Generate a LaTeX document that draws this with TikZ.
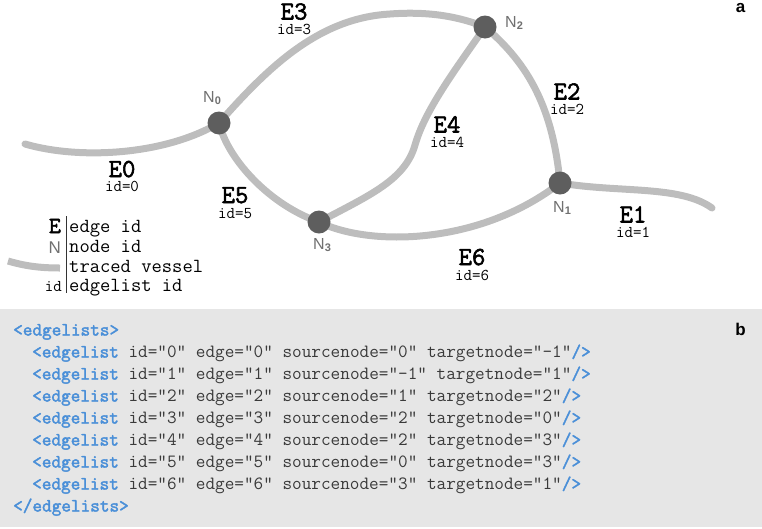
\documentclass[tikz,border=0pt]{standalone}
\usepackage{fontspec}
\newfontfamily\sansf{Liberation Sans}
\newfontfamily\ttb{Latin Modern Mono}[FakeBold=2.2]
\definecolor{vessel}{HTML}{BDBDBD}
\definecolor{nodefill}{HTML}{5E5E5E}
\definecolor{nlabel}{HTML}{707070}
\definecolor{panelgray}{HTML}{E6E6E6}
\definecolor{codeblue}{HTML}{4A8FD8}
\definecolor{codetext}{HTML}{3A3A3A}
\newcommand\tg[1]{\textcolor{codeblue}{\ttb #1}}
\newcommand\nlab[1]{{\sansf N\raisebox{-2.5pt}{\fontsize{11}{11}\selectfont\bfseries #1}}}
\newcommand\monospaces{\spaceskip=0.515em\relax\xspaceskip=0.515em\relax}
\tikzset{
  vesselline/.style={draw=vessel, line width=7pt, line cap=round},
  vnode/.style={circle, fill=nodefill, minimum size=23pt, inner sep=0pt},
  elab/.style={anchor=base, inner sep=0pt, font=\ttb\fontsize{26}{26}\selectfont},
  idlab/.style={anchor=base, inner sep=0pt, font=\ttfamily\fontsize{16.5}{16.5}\selectfont},
  nodelab/.style={anchor=base west, inner sep=0pt, text=nlabel, font=\fontsize{16}{16}\selectfont},
  legtext/.style={anchor=base west, inner sep=0pt, font=\ttfamily\fontsize{20}{20}\selectfont\monospaces},
  code/.style={anchor=base west, inner sep=0pt, text=codetext, font=\ttfamily\fontsize{18.7}{18.7}\selectfont\monospaces},
  panel/.style={anchor=base, inner sep=0pt, font=\sansf\bfseries\fontsize{17}{17}\selectfont}
}
\begin{document}
\begin{tikzpicture}[x=1pt,y=-1pt]
\useasboundingbox (0,0) rectangle (762,528);
% node centres
\coordinate (c0) at (219,123);
\coordinate (c1) at (560,183);
\coordinate (c2) at (485,27);
\coordinate (c3) at (319,222);
\coordinate (e0s) at (25,144);
\coordinate (e1e) at (712,208);
\coordinate (e3top) at (390,14);
\coordinate (e4mid) at (415,145);
% vessels
\draw[vesselline] (e0s) .. controls (80,160) and (165,155) .. (c0);
\draw[vesselline] (c0) .. controls (270,65) and (320,18) .. (e3top) .. controls (430,11) and (460,17) .. (c2);
\draw[vesselline] (c2) .. controls (530,65) and (553,110) .. (c1);
\draw[vesselline] (c2) .. controls (455,70) and (425,110) .. (e4mid) .. controls (405,180) and (370,195) .. (c3);
\draw[vesselline] (c0) .. controls (228,160) and (270,205) .. (c3);
\draw[vesselline] (c3) .. controls (370,247) and (480,245) .. (c1);
\draw[vesselline] (c1) .. controls (620,193) and (680,185) .. (e1e);
% nodes
\node[vnode] (n0) at (c0) {};
\node[vnode] (n1) at (c1) {};
\node[vnode] (n2) at (c2) {};
\node[vnode] (n3) at (c3) {};
% node labels
\node[nodelab] (ln0) at (203,102) {\nlab{0}};
\node[nodelab] (ln1) at (553,212) {\nlab{1}};
\node[nodelab] (ln2) at (505,27) {\nlab{2}};
\node[nodelab] (ln3) at (313,249) {\nlab{3}};
% edge labels
\node[elab] (le3) at (294,19.5) {E3};
\node[idlab] (li3) at (294,34) {id=3};
\node[elab] (le0) at (122,177) {E0};
\node[idlab] (li0) at (122,191.5) {id=0};
\node[elab] (le5) at (235,203) {E5};
\node[idlab] (li5) at (235,218) {id=5};
\node[elab] (le2) at (567,99.5) {E2};
\node[idlab] (li2) at (567,114) {id=2};
\node[elab] (le4) at (447,132.5) {E4};
\node[idlab] (li4) at (447,147) {id=4};
\node[elab] (le1) at (633,222.5) {E1};
\node[idlab] (li1) at (633,237) {id=1};
\node[elab] (le6) at (472,265) {E6};
\node[idlab] (li6) at (472,280.5) {id=6};
% legend
\coordinate (lvs) at (8,261);
\coordinate (lve) at (60,268);
\draw[vesselline, line cap=butt] (lvs) .. controls (25,266) and (40,268) .. (lve);
\coordinate (sept) at (66,216);
\coordinate (sepb) at (66,293);
\draw[line width=0.8pt, draw=black!80] (sept) -- (sepb);
\node[anchor=base east, inner sep=0pt, font=\ttb\fontsize{23}{23}\selectfont] (legE) at (61,233) {E};
\node[anchor=base east, inner sep=0pt, text=nlabel, font=\sansf\fontsize{17}{17}\selectfont] (legN) at (61,253) {N};
\node[anchor=base east, inner sep=0pt, font=\ttfamily\fontsize{16.5}{16.5}\selectfont] (legid) at (62,291) {id};
\node[legtext] (t1) at (69,232) {edge id};
\node[legtext] (t2) at (69,252) {node id};
\node[legtext] (t3) at (69,272) {traced vessel};
\node[legtext] (t4) at (69,291) {edgelist id};
\node[panel] (pa) at (740.5,12) {a};
% panel b
\fill[panelgray] (0,309) rectangle (762,527);
\node[panel] (pb) at (740.5,335) {b};
\node[code] (l0) at (13,335.5) {\tg{<edgelists>}};
\node[code] (l1) at (32,357.5) {\tg{<edgelist} id="0" edge="0" sourcenode="0" targetnode="-1"\tg{/>}};
\node[code] (l2) at (32,379.5) {\tg{<edgelist} id="1" edge="1" sourcenode="-1" targetnode="1"\tg{/>}};
\node[code] (l3) at (32,401.5) {\tg{<edgelist} id="2" edge="2" sourcenode="1" targetnode="2"\tg{/>}};
\node[code] (l4) at (32,423.5) {\tg{<edgelist} id="3" edge="3" sourcenode="2" targetnode="0"\tg{/>}};
\node[code] (l5) at (32,445.5) {\tg{<edgelist} id="4" edge="4" sourcenode="2" targetnode="3"\tg{/>}};
\node[code] (l6) at (32,467.5) {\tg{<edgelist} id="5" edge="5" sourcenode="0" targetnode="3"\tg{/>}};
\node[code] (l7) at (32,489.5) {\tg{<edgelist} id="6" edge="6" sourcenode="3" targetnode="1"\tg{/>}};
\node[code] (l8) at (13,511.5) {\tg{</edgelists>}};
\end{tikzpicture}
\end{document}
